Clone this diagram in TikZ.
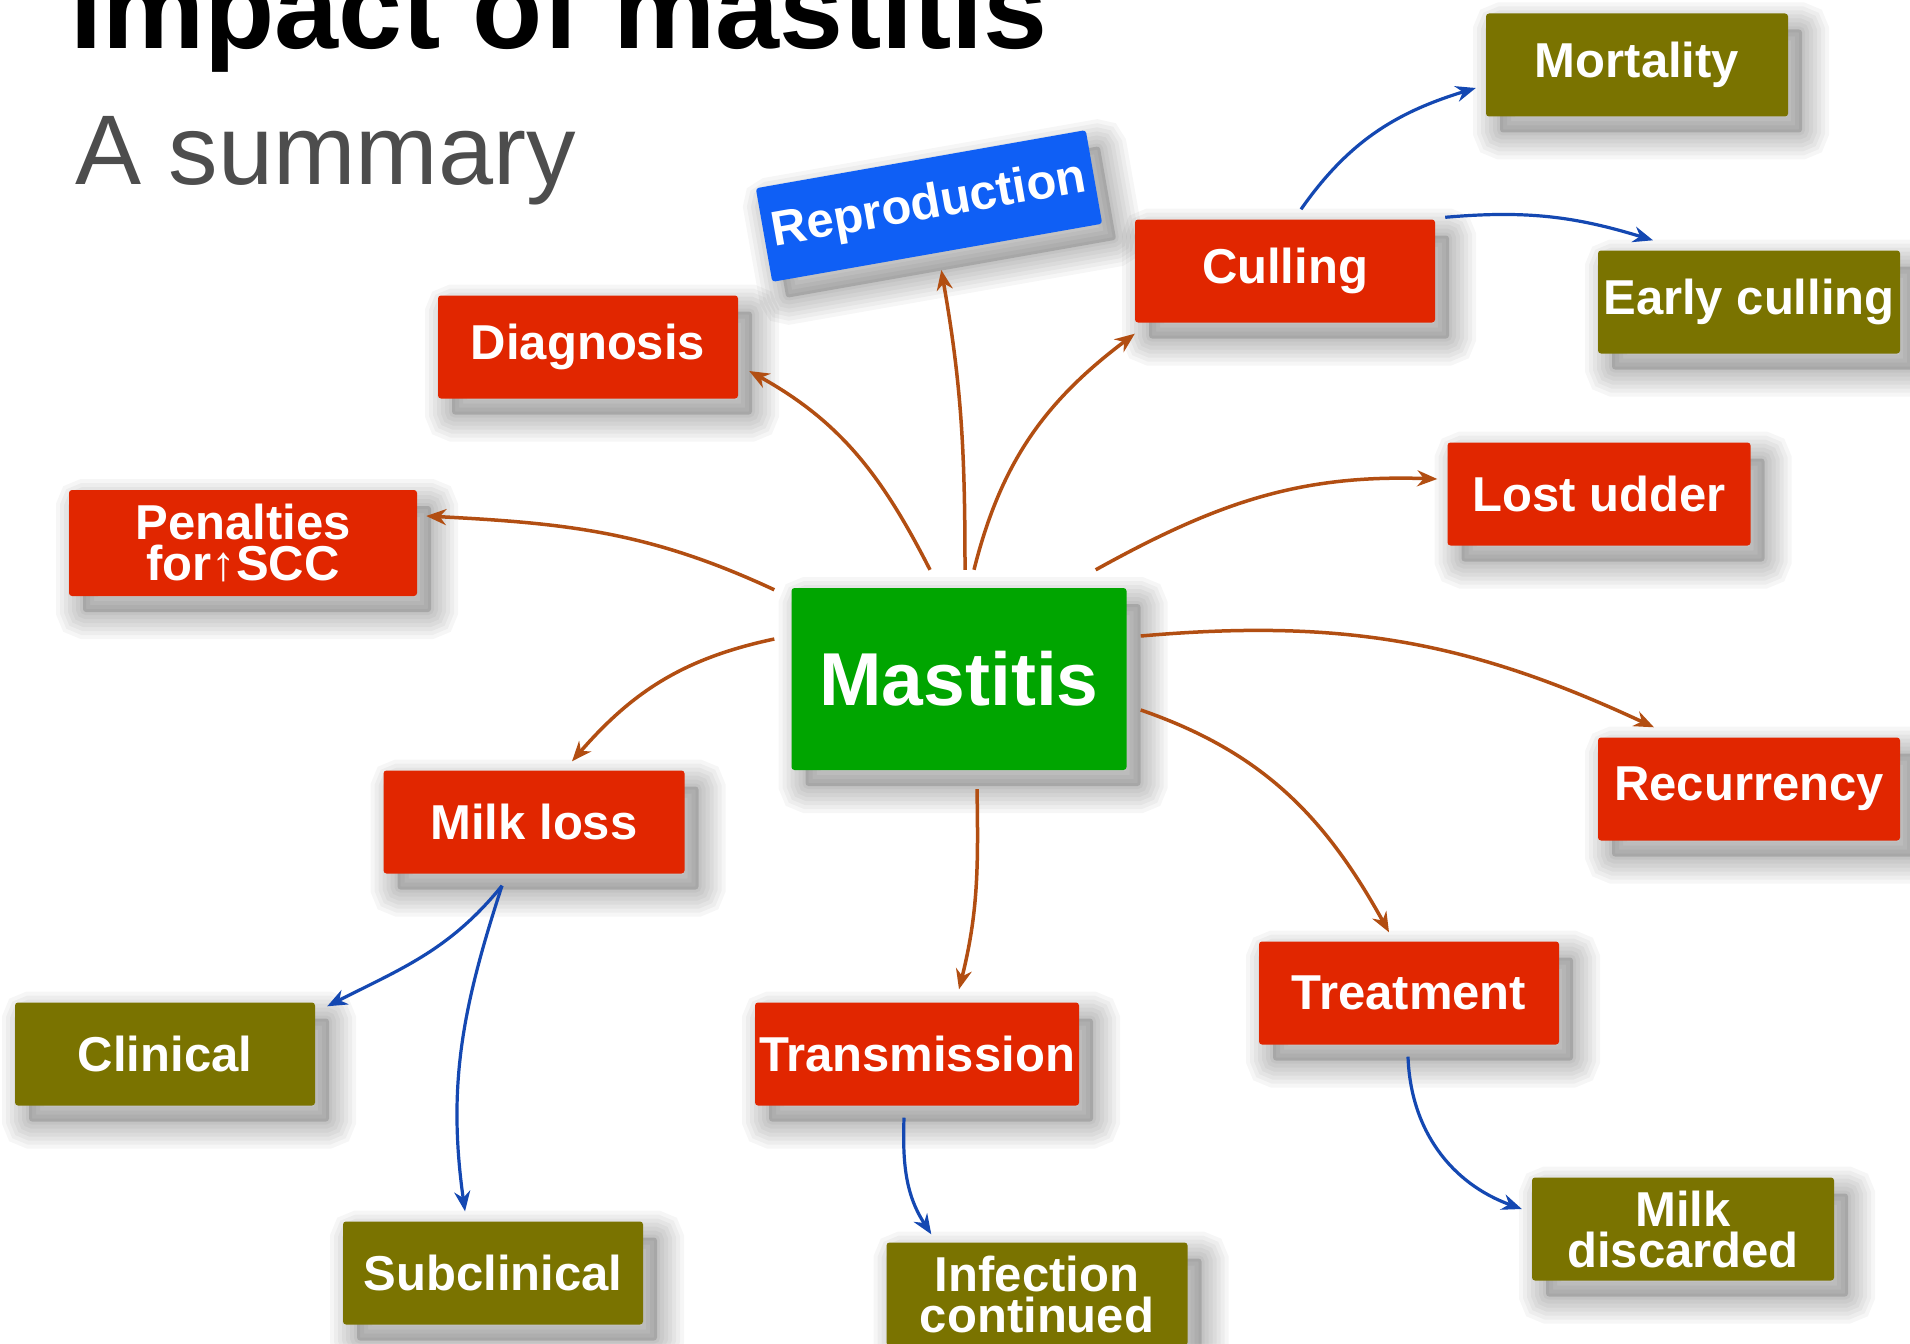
\documentclass[tikz,border=0pt]{standalone}
\usepackage{fontspec}
\setmainfont{Liberation Sans}
\usetikzlibrary{arrows.meta}
\definecolor{boxred}{RGB}{225,38,0}
\definecolor{boxolive}{RGB}{122,115,0}
\definecolor{boxgreen}{RGB}{0,165,0}
\definecolor{boxblue}{RGB}{15,95,245}
\definecolor{arrbrown}{RGB}{178,78,18}
\definecolor{arrblue}{RGB}{20,72,178}
\definecolor{subgray}{RGB}{77,77,77}
\begin{document}
\begin{tikzpicture}[x=1pt,y=-1pt,
  shadowring/.style={preaction={draw=black, draw opacity=0.035, line width=#1, transform canvas={shift={(14pt,-16pt)}}}},
  softshadow/.style={
    shadowring=54pt, shadowring=46pt, shadowring=38pt, shadowring=30pt,
    shadowring=22pt, shadowring=14pt, shadowring=6pt,
    preaction={fill=black, fill opacity=0.14, transform canvas={shift={(14pt,-16pt)}}}},
  boxbase/.style={rectangle, rounded corners=3pt, inner sep=0pt, text=white, align=center, softshadow},
  box/.style={boxbase, minimum width=300pt, minimum height=103pt,
    font=\bfseries\fontsize{49}{41}\selectfont},
  redbox/.style={box, fill=boxred},
  olivebox/.style={box, fill=boxolive},
  bluebox/.style={box, fill=boxblue},
  mainbox/.style={boxbase, fill=boxgreen, minimum width=335pt, minimum height=182pt,
    font=\bfseries\fontsize{75}{80}\selectfont},
  brownarr/.style={draw=arrbrown, line width=3.5pt, -{Stealth[length=20pt,width=16pt]}},
  bluearr/.style={draw=arrblue, line width=3.2pt, -{Stealth[length=20pt,width=16pt]}},
]
\useasboundingbox (0,0) rectangle (1910,1343);
\clip (0,0) rectangle (1910,1343);
\fill[white] (0,0) rectangle (1910,1343);

% titles
\node[anchor=base west, inner sep=0pt, font=\bfseries\fontsize{115}{120}\selectfont] (title) at (70,49) {Impact of mastitis};
\node[anchor=base west, inner sep=0pt, text=subgray, font=\fontsize{99}{104}\selectfont] (subtitle) at (75,185) {A summary};

% nodes
\node[mainbox] (mast) at (959,679) {Mastitis};
\node[bluebox, rotate=10, minimum width=335pt, minimum height=95pt] (repr) at (929,206) {Reproduction};
\node[redbox] (diag) at (588,347) {Diagnosis};
\node[redbox] (cull) at (1285,271) {Culling};
\node[redbox, minimum width=348pt, minimum height=106pt] (pen) at (243,543) {Penalties\\for↑SCC};
\node[redbox, minimum width=303pt] (lost) at (1599,494) {Lost udder};
\node[redbox, minimum width=302pt] (rec) at (1749,789) {Recurrency};
\node[redbox] (treat) at (1409,993) {Treatment};
\node[redbox, minimum width=324pt] (trans) at (917,1054) {Transmission};
\node[redbox, minimum width=301pt] (milk) at (534,822) {Milk loss};
\node[olivebox, minimum width=302pt] (mort) at (1637,65) {Mortality};
\node[olivebox, minimum width=302pt] (early) at (1749,302) {Early culling};
\node[olivebox] (clin) at (165,1054) {Clinical};
\node[olivebox] (sub) at (493,1273) {Subclinical};
\node[olivebox, minimum width=301pt] (inf) at (1037,1294) {Infection\\continued};
\node[olivebox, minimum width=302pt] (disc) at (1683,1229) {Milk\\discarded};

% brown connectors from Mastitis
\draw[brownarr] ([xshift=-17pt,yshift=-2pt]mast.north west) to[out=155,in=-3] ([xshift=9pt,yshift=27pt]pen.east);
\draw[brownarr] ([xshift=-29pt,yshift=18pt]mast.north) to[out=117,in=-29] ([xshift=11pt,yshift=-24pt]diag.east);
\draw[brownarr] ([xshift=6pt,yshift=18pt]mast.north) to[out=90,in=-80] ([xshift=4pt,yshift=-17pt]repr.south);
\draw[brownarr] ([xshift=15pt,yshift=18pt]mast.north) to[out=76,in=-143] ([yshift=-11pt]cull.south west);
\draw[brownarr] ([xshift=-31pt,yshift=18pt]mast.north east) to[out=29,in=178] ([xshift=-10pt,yshift=15pt]lost.west);
\draw[brownarr] ([xshift=14pt,yshift=43pt]mast.east) to[out=5,in=155] ([xshift=-95pt,yshift=10pt]rec.north);
\draw[brownarr] ([xshift=14pt,yshift=-31pt]mast.east) to[out=-19,in=119] ([xshift=-20pt,yshift=9pt]treat.north);
\draw[brownarr] ([xshift=18pt,yshift=-19pt]mast.south) to[out=-89,in=76] ([xshift=42pt,yshift=13pt]trans.north);
\draw[brownarr] ([xshift=-17pt,yshift=40pt]mast.west) to[out=192,in=49] ([xshift=38pt,yshift=9pt]milk.north);

% blue connectors
\draw[bluearr] ([xshift=16pt,yshift=10pt]cull.north) to[out=55,in=197] ([xshift=-10pt,yshift=-23pt]mort.west);
\draw[bluearr] ([xshift=10pt,yshift=2pt]cull.north east) to[out=5,in=163] ([xshift=-96pt,yshift=10pt]early.north);
\draw[bluearr] ([xshift=-32pt,yshift=-12pt]milk.south) to[out=-129,in=27] ([xshift=12pt,yshift=-4pt]clin.north east);
\draw[bluearr] ([xshift=-32pt,yshift=-12pt]milk.south) to[out=-108,in=98] ([xshift=-28pt,yshift=10pt]sub.north);
\draw[bluearr] ([xshift=-13pt,yshift=-12pt]trans.south) to[out=-92,in=123] ([xshift=45pt,yshift=8pt]inf.north west);
\draw[bluearr] ([xshift=-1pt,yshift=-12pt]treat.south) to[out=-88,in=160] ([xshift=-10pt,yshift=20pt]disc.west);
\end{tikzpicture}
\end{document}
